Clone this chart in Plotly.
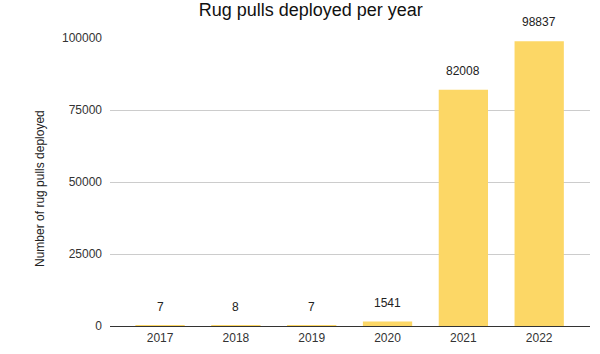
import plotly.graph_objects as go

years = ["2017", "2018", "2019", "2020", "2021", "2022"]
rug_pulls = [7, 8, 7, 1541, 82008, 98837]
y_ticks = [0, 25000, 50000, 75000, 100000]

FONT = "Liberation Sans, Arial"

fig = go.Figure(go.Bar(
    x=years, y=rug_pulls,
    marker=dict(color="#fcd766", line=dict(width=0)),
    cliponaxis=False,
))

for i, v in enumerate(rug_pulls):
    fig.add_annotation(x=i, y=v, text=str(v), showarrow=False,
                       yanchor="middle", yshift=19,
                       font=dict(family=FONT, size=12, color="#222"))

fig.add_annotation(xref="paper", yref="paper", x=-0.146, y=0.479,
                   text="Number of rug pulls deployed", textangle=-90,
                   showarrow=False, xanchor="center", yanchor="middle",
                   font=dict(family=FONT, size=12, color="#222"))

fig.update_layout(
    width=600, height=354,
    margin=dict(l=110, r=10, t=38, b=28),
    paper_bgcolor="white", plot_bgcolor="white",
    bargap=0.35,
    showlegend=False,
    title=dict(text="Rug pulls deployed per year", x=0.518, xanchor="center",
               y=0.974, yanchor="middle",
               font=dict(family=FONT, size=18, color="#111")),
    xaxis=dict(type="category", range=[-0.66, 5.67], showgrid=False, showline=False,
               tickfont=dict(family=FONT, size=12, color="#333"),
               ticks="", ticklabelstandoff=3),
    yaxis=dict(range=[0, 100000], tickvals=y_ticks, ticktext=[str(v) for v in y_ticks],
               showgrid=True, gridcolor="#cccccc", gridwidth=1,
               zeroline=True, zerolinecolor="#333333", zerolinewidth=1,
               tickfont=dict(family=FONT, size=12, color="#333"),
               ticks="", ticklabelstandoff=7),
)

fig.write_html("out.html")
